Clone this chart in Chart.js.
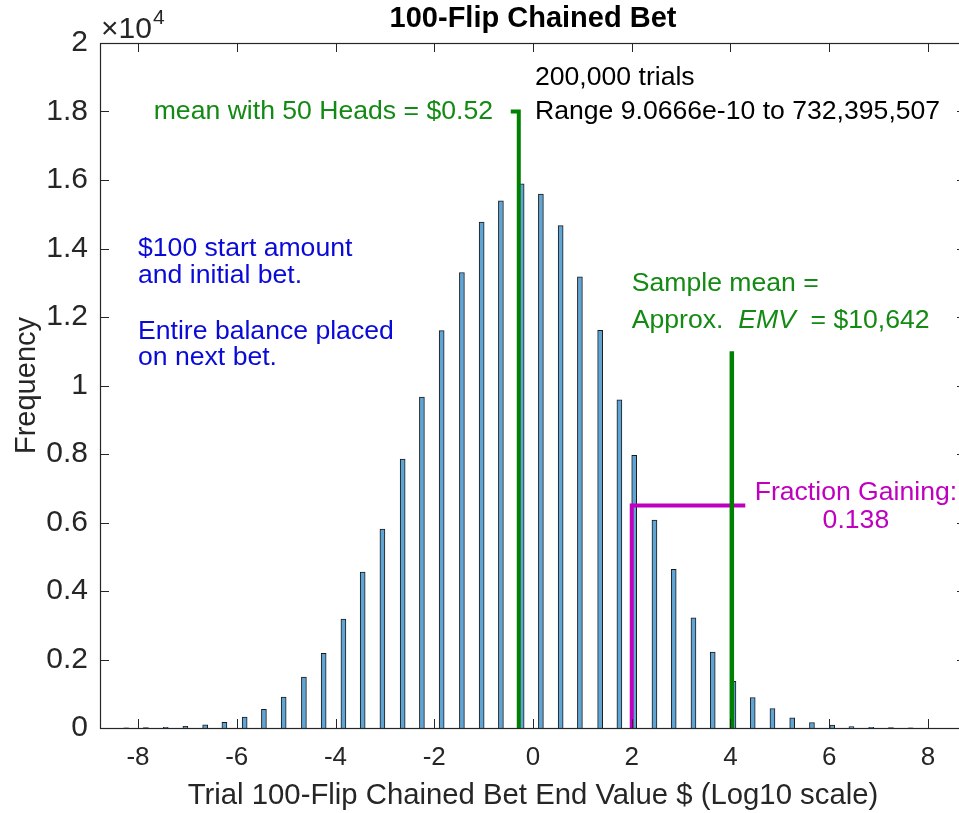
<!DOCTYPE html>
<html>
<head>
<meta charset="utf-8">
<script src="https://cdn.jsdelivr.net/npm/chart.js@4.4.1/dist/chart.umd.min.js"></script>
<style>
  html, body { margin: 0; padding: 0; background: #fff; overflow: hidden; }
  #wrap { position: relative; width: 968px; height: 813px; }
</style>
</head>
<body>
<div id="wrap"><canvas id="c" width="968" height="813"></canvas></div>
<script>
// Histogram of log10(end value) over 200,000 simulated 100-flip chained bets
const binCenters = [-8.24, -7.84, -7.44, -7.04, -6.64, -6.25, -5.84, -5.45, -5.05, -4.64,
                    -4.24, -3.84, -3.45, -3.05, -2.64, -2.25, -1.85, -1.44, -1.04, -0.65,
                    -0.23, 0.16, 0.56, 0.95, 1.36, 1.75, 2.05, 2.46, 2.85, 3.25,
                    3.64, 4.06, 4.45, 4.85, 5.25, 5.65, 6.06, 6.45, 6.85, 7.25, 7.65];
const counts = [5, 10, 22, 50, 90, 165, 320, 545, 905, 1490,
                2180, 3180, 4555, 5810, 7850, 9660, 11600, 13300, 14770, 15390,
                15890, 15590, 14670, 13170, 11610, 9580, 7960, 6070, 4630, 3220,
                2220, 1360, 890, 570, 300, 160, 85, 42, 20, 10, 5];

const xTicks = [-8, -6, -4, -2, 0, 2, 4, 6, 8];
const yTicks = [0, 2000, 4000, 6000, 8000, 10000, 12000, 14000, 16000, 18000, 20000];
const yTickLabels = ['0', '0.2', '0.4', '0.6', '0.8', '1', '1.2', '1.4', '1.6', '1.8', '2'];

// reference markers (log10 dollars, frequency)
const mean50Heads = -0.288;      // log10($0.52)
const mean50Level = 18000;
const sampleMean = 4.027;        // log10($10,642)
const sampleMeanLevel = 11000;
const breakEven = 2;             // log10($100)
const gainingLevel = 6500;
const gainingEnd = 4.3;

const FONT = "'Liberation Sans', Arial, Helvetica, sans-serif";
const AXIS_COLOR = '#262626';
const GREEN = '#008000';
const GREEN_TEXT = '#138a13';
const MAGENTA = '#bf00bf';
const BLUE = '#0a0ad8';

// text placed in data coordinates
const notes = [
  { parts: [{ t: '200,000 trials' }], x: 0.04, y: 18980, align: 'left', color: '#000' },
  { parts: [{ t: 'Range 9.0666e-10 to 732,395,507' }], x: 0.04, y: 18000, align: 'left', color: '#000' },
  { parts: [{ t: 'mean with 50 Heads = $0.52' }], x: -0.81, y: 18000, align: 'right', color: GREEN_TEXT },
  { parts: [{ t: '$100 start amount' }], x: -8.0, y: 14010, align: 'left', color: BLUE },
  { parts: [{ t: 'and initial bet.' }], x: -8.0, y: 13200, align: 'left', color: BLUE },
  { parts: [{ t: 'Entire balance placed' }], x: -8.0, y: 11560, align: 'left', color: BLUE },
  { parts: [{ t: 'on next bet.' }], x: -8.0, y: 10800, align: 'left', color: BLUE },
  { parts: [{ t: 'Sample mean =' }], x: 2.0, y: 12960, align: 'left', color: GREEN_TEXT },
  { parts: [{ t: 'Approx.  ' }, { t: 'EMV', italic: true }, { t: '  = $10,642' }], x: 2.0, y: 11900, align: 'left', color: GREEN_TEXT },
  { parts: [{ t: 'Fraction Gaining:' }], x: 6.54, y: 6860, align: 'center', color: MAGENTA },
  { parts: [{ t: '0.138' }], x: 6.54, y: 6060, align: 'center', color: MAGENTA }
];

const NOTE_SIZE = 26.6;
const Y_RULER_SIZE = 30;

const boxPlugin = {
  id: 'boxAndNotes',
  afterDatasetsDraw(chart) {
    const { ctx, chartArea: a, scales: { x, y } } = chart;
    ctx.save();
    // axes box
    ctx.strokeStyle = AXIS_COLOR;
    ctx.lineWidth = 1.2;
    ctx.strokeRect(a.left + 0.5, a.top + 0.5, a.right - a.left, a.bottom - a.top);
    // inward tick marks on all four sides
    const T = 9;
    ctx.lineWidth = 1;
    ctx.beginPath();
    xTicks.forEach(v => {
      const px = Math.round(x.getPixelForValue(v)) + 0.5;
      ctx.moveTo(px, a.bottom); ctx.lineTo(px, a.bottom - T);
      ctx.moveTo(px, a.top); ctx.lineTo(px, a.top + T);
    });
    yTicks.forEach(v => {
      const py = Math.round(y.getPixelForValue(v)) + 0.5;
      ctx.moveTo(a.left, py); ctx.lineTo(a.left + T, py);
      ctx.moveTo(a.right, py); ctx.lineTo(a.right - T, py);
    });
    ctx.stroke();

    // exponent label of the y axis
    ctx.fillStyle = AXIS_COLOR;
    ctx.textBaseline = 'middle';
    ctx.textAlign = 'left';
    ctx.font = `${Y_RULER_SIZE}px ${FONT}`;
    ctx.fillText('\u00d710', a.left + 1, a.top - 13);
    const w10 = ctx.measureText('\u00d710').width;
    ctx.font = `21px ${FONT}`;
    ctx.fillText('4', a.left + w10 + 2, a.top - 25);

    // annotations
    notes.forEach(n => {
      const px = x.getPixelForValue(n.x);
      const py = y.getPixelForValue(n.y);
      const fonts = n.parts.map(p => `${p.italic ? 'italic ' : ''}${NOTE_SIZE}px ${FONT}`);
      const widths = n.parts.map((p, i) => { ctx.font = fonts[i]; return ctx.measureText(p.t).width; });
      const total = widths.reduce((s, w) => s + w, 0);
      let cx = n.align === 'left' ? px : n.align === 'right' ? px - total : px - total / 2;
      ctx.fillStyle = n.color;
      ctx.textAlign = 'left';
      ctx.textBaseline = 'middle';
      n.parts.forEach((p, i) => {
        ctx.font = fonts[i];
        ctx.fillText(p.t, cx, py);
        cx += widths[i];
      });
    });
    ctx.restore();
  }
};

const barData = binCenters.map((v, i) => ({ x: v, y: counts[i] }));

new Chart(document.getElementById('c'), {
  type: 'bar',
  data: {
    datasets: [
      {
        type: 'line',
        data: [{ x: -0.45, y: mean50Level }, { x: mean50Heads, y: mean50Level }, { x: mean50Heads, y: 0 }],
        borderColor: GREEN, borderWidth: 4, pointRadius: 0, tension: 0, order: 0,
        borderJoinStyle: 'miter', borderCapStyle: 'butt'
      },
      {
        type: 'line',
        data: [{ x: sampleMean, y: sampleMeanLevel }, { x: sampleMean, y: 0 }],
        borderColor: GREEN, borderWidth: 4.5, pointRadius: 0, tension: 0, order: 0,
        borderCapStyle: 'butt'
      },
      {
        type: 'line',
        data: [{ x: breakEven, y: 0 }, { x: breakEven, y: gainingLevel }, { x: gainingEnd, y: gainingLevel }],
        borderColor: MAGENTA, borderWidth: 4, pointRadius: 0, tension: 0, order: 0,
        borderJoinStyle: 'miter', borderCapStyle: 'butt'
      },
      {
        type: 'bar',
        data: barData,
        backgroundColor: 'rgb(96,164,212)',
        borderColor: '#1a1a1a',
        borderWidth: 1,
        barThickness: 5,
        grouped: false,
        order: 1
      }
    ]
  },
  options: {
    responsive: false,
    animation: false,
    devicePixelRatio: 1,
    layout: { padding: { top: 0, right: 2, bottom: 0, left: 0 } },
    plugins: {
      legend: { display: false },
      tooltip: { enabled: false },
      title: {
        display: true,
        text: '100-Flip Chained Bet',
        color: '#000',
        font: { family: FONT, size: 29, weight: 'bold' },
        padding: { top: 2, bottom: 6.2 },
        fullSize: false
      }
    },
    scales: {
      x: {
        type: 'linear',
        min: -8.77,
        max: 8.77,
        offset: false,
        grid: { display: false, drawTicks: false },
        border: { display: false },
        afterBuildTicks: s => { s.ticks = xTicks.map(v => ({ value: v })); },
        afterFit: s => { s.height = 85; },
        ticks: {
          color: AXIS_COLOR,
          font: { family: FONT, size: 26 },
          padding: 14,
          maxRotation: 0,
          callback: v => String(v)
        },
        title: {
          display: true,
          text: 'Trial 100-Flip Chained Bet End Value $ (Log10 scale)',
          color: AXIS_COLOR,
          font: { family: FONT, size: 29.3 },
          padding: { top: 0, bottom: 0 }
        }
      },
      y: {
        min: 0,
        max: 20000,
        grid: { display: false, drawTicks: false },
        border: { display: false },
        afterBuildTicks: s => { s.ticks = yTicks.map(v => ({ value: v })); },
        afterFit: s => { s.width = 100; },
        ticks: {
          color: AXIS_COLOR,
          font: { family: FONT, size: Y_RULER_SIZE },
          padding: 12,
          callback: (v, i) => yTickLabels[i]
        },
        title: {
          display: true,
          text: 'Frequency',
          color: AXIS_COLOR,
          font: { family: FONT, size: 29 },
          padding: { top: 10, bottom: 0 }
        }
      }
    }
  },
  plugins: [boxPlugin]
});
</script>
</body>
</html>
